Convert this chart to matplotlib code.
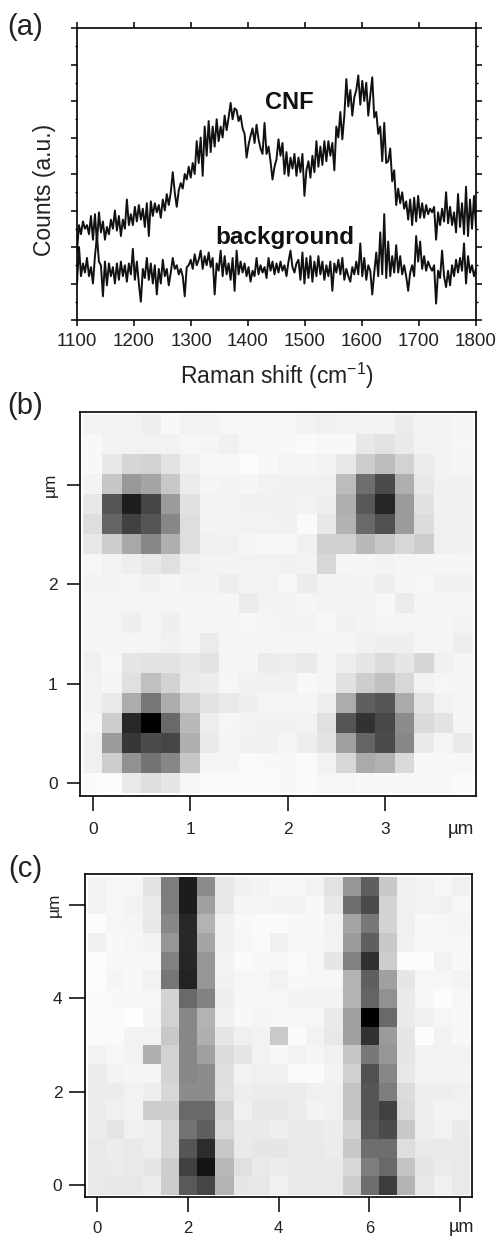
# Raman spectra of carbon nanofibers (a) and the two Raman maps (b), (c)
import numpy as np
import matplotlib
matplotlib.use("Agg")
import matplotlib.pyplot as plt
from matplotlib.ticker import MultipleLocator

plt.rcParams['font.family'] = ['Liberation Sans', 'DejaVu Sans']
plt.rcParams['mathtext.fontset'] = 'custom'
plt.rcParams['mathtext.rm'] = 'Liberation Sans'
plt.rcParams['mathtext.default'] = 'regular'

# spectra, one value every 3.5 cm-1
raman_shift = np.arange(1100, 1800.5, 3.5)
cnf_counts = [
    1.9, 2.6, 2.35, 2.7, 2.5, 2.6, 2.35, 2.85, 2.2, 2.9, 2.1, 2.95, 2.4, 2.7, 2.2, 2.55, 2.35, 2.75, 2.5, 3.0,
    2.45, 2.85, 2.3, 2.75, 2.5, 3.3, 2.6, 2.9, 2.6, 3.1, 2.7, 3.15, 2.75, 3.05, 2.55, 3.2, 2.3, 3.25, 2.85, 3.2,
    2.95, 3.15, 2.8, 3.3, 3.0, 3.45, 3.15, 3.5, 4.05, 3.5, 3.1, 3.55, 3.75, 3.6, 4.0, 3.85, 4.2, 3.9, 4.3, 4.0,
    4.9, 4.3, 5.0, 3.95, 5.3, 4.5, 5.45, 4.6, 5.3, 4.75, 5.5, 4.9, 5.3, 5.0, 5.6, 5.2, 5.55, 5.95, 5.5, 5.8,
    5.75, 5.45, 5.6, 5.25, 5.1, 4.45, 4.8, 5.05, 5.25, 4.85, 5.35, 4.95, 4.7, 4.55, 5.4, 4.55, 4.75, 4.35, 3.85, 4.2,
    4.4, 4.95, 4.5, 4.85, 4.0, 4.6, 3.95, 4.45, 4.15, 4.55, 3.95, 4.45, 4.05, 4.55, 3.4, 4.1, 4.35, 3.9, 4.5, 4.05,
    4.9, 4.2, 4.75, 4.25, 4.9, 4.35, 4.9, 4.5, 4.85, 4.1, 5.3, 5.0, 5.7, 4.95, 5.6, 6.6, 5.85, 6.3, 5.6, 6.1,
    6.3, 6.7, 5.9, 6.55, 6.0, 6.5, 5.6, 6.15, 6.65, 5.55, 5.7, 5.1, 5.3, 4.35, 5.4, 4.3, 4.35, 4.7, 3.8, 4.1,
    3.15, 3.6, 3.2, 3.5, 3.05, 3.25, 2.75, 3.3, 2.6, 3.35, 2.7, 3.4, 2.8, 3.2, 2.8, 3.15, 2.9, 3.05, 2.95, 3.1,
    2.2, 2.95, 2.6, 3.05, 2.7, 3.5, 2.65, 3.1, 2.6, 2.95, 2.4, 3.45, 2.55, 3.2, 2.35, 3.65, 2.3, 3.3, 2.5, 3.4,
    2.55,
]
background_counts = [
    1.0, 2.0, 1.2, 1.55, 1.3, 1.7, 1.2, 1.45, 1.0, 1.75, 2.3, 1.6, 1.5, 0.65, 1.6, 0.95, 1.55, 1.2, 1.45, 1.0,
    1.55, 1.1, 1.6, 1.2, 1.5, 1.05, 1.55, 1.25, 1.95, 1.1, 1.6, 1.0, 0.5, 1.4, 1.15, 1.7, 1.1, 1.55, 1.0, 1.5,
    0.7, 1.4, 1.0, 1.65, 1.2, 1.4, 0.95, 1.3, 1.7, 1.4, 1.5, 1.25, 1.4, 1.2, 0.65, 1.45, 1.5, 1.65, 1.4, 1.8,
    1.5, 1.65, 1.9, 1.4, 1.75, 1.5, 1.85, 1.45, 1.7, 0.7, 1.55, 1.35, 1.9, 1.2, 1.75, 1.25, 1.55, 1.1, 1.7, 0.8,
    1.9, 1.25, 1.6, 1.3, 1.55, 1.2, 1.45, 1.05, 1.35, 1.2, 1.7, 1.25, 1.5, 1.3, 1.45, 1.15, 1.7, 1.35, 1.6, 1.25,
    1.55, 1.3, 1.6, 1.35, 1.5, 1.2, 1.6, 1.9, 1.45, 1.3, 1.55, 1.65, 1.1, 1.85, 1.0, 1.7, 1.15, 1.75, 1.05, 1.6,
    1.2, 1.75, 1.25, 1.6, 1.1, 1.5, 1.2, 1.6, 0.8, 1.55, 1.3, 1.65, 1.25, 1.7, 1.1, 1.4, 1.2, 1.05, 1.45, 1.25,
    1.6, 1.25, 2.1, 1.2, 1.7, 1.1, 1.5, 1.35, 0.7, 1.3, 1.85, 1.2, 2.4, 1.25, 2.9, 1.15, 2.15, 1.2, 1.75, 1.3,
    2.05, 1.3, 1.75, 1.25, 1.5, 1.2, 0.8, 1.3, 1.5, 1.2, 2.3, 1.6, 2.15, 1.4, 1.75, 1.35, 1.6, 1.45, 1.35, 1.5,
    0.45, 1.35, 1.15, 1.9, 1.2, 0.9, 1.35, 0.95, 1.5, 1.2, 1.65, 1.3, 1.7, 1.35, 2.1, 1.0, 1.75, 1.3, 1.5, 1.2,
    1.4,
]

# map (b): grey levels, top row first, 0.2 um per pixel
map_b = [
    [244, 243, 243, 238, 248, 242, 242, 246, 246, 246, 246, 242, 240, 242, 244, 244, 236, 243, 243, 245],
    [248, 244, 242, 242, 242, 246, 245, 240, 246, 248, 248, 250, 248, 248, 232, 226, 234, 243, 243, 246],
    [248, 232, 214, 210, 228, 240, 248, 247, 251, 248, 245, 245, 244, 232, 205, 188, 210, 236, 243, 245],
    [244, 198, 152, 165, 200, 235, 245, 244, 245, 242, 241, 241, 240, 188, 110, 75, 175, 232, 241, 241],
    [232, 85, 30, 70, 155, 225, 242, 242, 240, 240, 241, 242, 238, 175, 88, 38, 155, 225, 241, 240],
    [222, 100, 65, 85, 135, 222, 244, 242, 242, 242, 241, 250, 232, 178, 105, 82, 155, 220, 241, 240],
    [232, 205, 168, 135, 175, 222, 240, 240, 245, 247, 247, 240, 208, 208, 185, 200, 215, 205, 240, 241],
    [246, 242, 238, 232, 224, 240, 244, 244, 242, 242, 241, 242, 215, 245, 245, 244, 245, 245, 245, 245],
    [244, 244, 245, 241, 245, 243, 244, 237, 242, 242, 248, 236, 242, 242, 243, 238, 245, 246, 241, 241],
    [245, 245, 245, 245, 245, 245, 245, 245, 235, 243, 243, 245, 243, 243, 244, 247, 235, 245, 245, 245],
    [245, 245, 239, 245, 239, 245, 245, 245, 247, 245, 243, 243, 247, 241, 243, 245, 245, 245, 245, 243],
    [245, 245, 245, 245, 241, 245, 235, 245, 245, 245, 245, 245, 245, 245, 241, 239, 239, 245, 245, 237],
    [240, 247, 230, 228, 228, 232, 228, 245, 245, 235, 237, 233, 245, 238, 230, 220, 230, 214, 240, 245],
    [242, 245, 224, 192, 212, 234, 236, 246, 241, 241, 241, 248, 245, 225, 205, 192, 215, 242, 246, 245],
    [242, 234, 172, 118, 172, 208, 228, 234, 239, 245, 245, 245, 238, 172, 95, 85, 170, 228, 242, 245],
    [246, 205, 40, 0, 105, 185, 237, 246, 242, 241, 241, 242, 224, 85, 50, 72, 140, 218, 228, 245],
    [240, 155, 55, 75, 70, 175, 234, 245, 241, 241, 245, 238, 228, 160, 100, 75, 135, 234, 245, 234],
    [240, 205, 145, 115, 135, 198, 245, 245, 250, 248, 247, 250, 242, 215, 170, 178, 218, 248, 247, 247],
    [250, 252, 234, 222, 230, 246, 250, 250, 250, 250, 248, 250, 246, 246, 248, 248, 248, 246, 248, 250],
]

# map (c): grey levels, top row first, 0.4 um per pixel
map_c = [
    [242, 246, 246, 226, 125, 28, 140, 232, 240, 244, 246, 246, 242, 226, 150, 95, 200, 240, 244, 246, 240],
    [244, 246, 242, 234, 125, 28, 160, 232, 245, 245, 243, 243, 248, 232, 110, 75, 212, 240, 244, 241, 246],
    [252, 246, 245, 232, 135, 40, 180, 241, 248, 250, 250, 248, 248, 242, 165, 120, 212, 240, 248, 246, 245],
    [241, 248, 246, 242, 150, 40, 165, 241, 246, 250, 240, 248, 246, 242, 155, 95, 200, 241, 248, 246, 246],
    [252, 248, 248, 248, 130, 38, 150, 243, 250, 248, 248, 250, 246, 230, 130, 48, 205, 252, 252, 242, 248],
    [252, 245, 248, 242, 118, 35, 150, 241, 246, 246, 242, 248, 246, 246, 180, 95, 160, 230, 246, 246, 244],
    [250, 248, 248, 246, 212, 105, 130, 238, 246, 246, 246, 243, 243, 243, 180, 100, 145, 234, 246, 252, 246],
    [250, 250, 254, 245, 210, 135, 180, 241, 248, 245, 246, 246, 246, 234, 160, 0, 105, 234, 241, 246, 248],
    [250, 250, 242, 242, 200, 135, 175, 230, 240, 242, 202, 250, 242, 232, 160, 50, 155, 230, 252, 242, 248],
    [242, 246, 242, 175, 210, 135, 160, 220, 230, 242, 248, 242, 245, 240, 198, 120, 150, 230, 242, 242, 242],
    [236, 243, 245, 245, 212, 135, 140, 222, 242, 240, 240, 250, 250, 242, 208, 80, 135, 232, 243, 243, 243],
    [236, 236, 242, 238, 215, 140, 140, 224, 238, 236, 236, 236, 240, 240, 195, 85, 125, 220, 238, 238, 240],
    [236, 240, 242, 205, 205, 105, 105, 210, 240, 232, 232, 236, 243, 240, 195, 85, 65, 217, 238, 243, 242],
    [236, 229, 240, 238, 215, 115, 95, 217, 234, 234, 238, 234, 234, 236, 212, 90, 75, 200, 238, 242, 234],
    [233, 236, 233, 238, 215, 85, 45, 200, 234, 230, 230, 233, 233, 236, 200, 110, 110, 222, 233, 233, 233],
    [233, 235, 233, 230, 205, 65, 20, 185, 224, 233, 236, 233, 233, 233, 215, 125, 105, 195, 230, 235, 233],
    [233, 231, 231, 236, 205, 90, 70, 180, 230, 231, 240, 233, 233, 233, 205, 110, 60, 180, 231, 240, 233],
]

W, H = 498, 1237
fig = plt.figure(figsize=(W / 100, H / 100), dpi=100)


def axes_px(left, top, right, bottom):
    # axes placed by its pixel box, y counted from the top of the picture
    return fig.add_axes([left / W, 1 - bottom / H, (right - left) / W, (bottom - top) / H])


def text_px(x, y, s, **kw):
    fig.text(x / W, 1 - y / H, s, ha='center', va='center', **kw)


# Panel (a): spectra
ax = axes_px(77, 28, 476, 320)
ax.plot(raman_shift, cnf_counts, color='#111111', lw=1.4)
ax.plot(raman_shift, background_counts, color='#111111', lw=1.4)
ax.set_xlim(1100, 1800)
ax.set_ylim(0, 8)
ax.set_xticks(np.arange(1100, 1801, 100))
ax.yaxis.set_major_locator(MultipleLocator(1))
ax.yaxis.set_minor_locator(MultipleLocator(0.5))
ax.tick_params(axis='y', which='major', length=4, width=1.1, left=True, right=True, labelleft=False)
ax.tick_params(axis='y', which='minor', length=1.5, width=1.0, left=True, right=True)
ax.tick_params(axis='x', which='major', length=4.5, width=1.1, top=True, labelsize=13.5, pad=5, labelcolor='#222222')
for s in ax.spines.values():
    s.set_linewidth(1.2)
ax.text(1472, 5.97, 'CNF', fontsize=17, fontweight='bold', ha='center', va='center', color='#111111')
ax.text(1465, 2.27, 'background', fontsize=17.5, fontweight='bold', ha='center', va='center', color='#111111')
text_px(45, 190, 'Counts (a.u.)', fontsize=16.5, rotation=90, color='#222222')
text_px(277, 376, 'Raman shift (cm$^{-1}$)', fontsize=16.5, color='#222222')
text_px(25, 27, '(a)', fontsize=21, color='#222222')

# Panel (b): map of four dots
ax = axes_px(80, 412, 476, 796)
ax.imshow(map_b, cmap='gray', vmin=0, vmax=255, extent=(-0.1, 3.9, -0.1, 3.7),
          origin='upper', interpolation='nearest', aspect='auto')
ax.set_xlim(-0.133, 3.93)
ax.set_ylim(-0.13, 3.73)
ax.set_xticks([0, 1, 2, 3])
ax.set_yticks([0, 1, 2, 3])
ax.set_yticklabels(['0', '1', '2', 'µm'])
ax.get_yticklabels()[3].set_rotation(90)
ax.get_yticklabels()[3].set_va('center')
ax.tick_params(axis='x', length=10.5, width=1.1, labelsize=12.5, pad=8, labelcolor='#222222')
ax.tick_params(axis='y', length=9.5, width=1.1, labelsize=12.5, pad=6.5, labelcolor='#222222')
for s in ax.spines.values():
    s.set_linewidth(1.2)
text_px(461, 829, 'µm', fontsize=13.5, color='#222222')
text_px(25, 406, '(b)', fontsize=21, color='#222222')

# Panel (c): map of two lines
ax = axes_px(84.5, 874, 472, 1197)
ax.imshow(map_c, cmap='gray', vmin=0, vmax=255, extent=(-0.2, 8.2, -0.2, 6.6),
          origin='upper', interpolation='nearest', aspect='auto')
ax.set_xlim(-0.28, 8.26)
ax.set_ylim(-0.25, 6.66)
ax.set_xticks([0, 2, 4, 6, 8])
ax.set_xticklabels(['0', '2', '4', '6', ''])
ax.set_yticks([0, 2, 4, 6])
ax.set_yticklabels(['0', '2', '4', 'µm'])
ax.get_yticklabels()[3].set_rotation(90)
ax.get_yticklabels()[3].set_va('center')
ax.tick_params(axis='x', length=10.5, width=1.1, labelsize=12, pad=7, labelcolor='#222222')
ax.tick_params(axis='y', length=11.5, width=1.1, labelsize=12.5, pad=4.5, labelcolor='#222222')
for s in ax.spines.values():
    s.set_linewidth(1.2)
text_px(461, 1227, 'µm', fontsize=13, color='#222222')
text_px(25, 869, '(c)', fontsize=21, color='#222222')

fig.savefig('out.png', dpi=100)
